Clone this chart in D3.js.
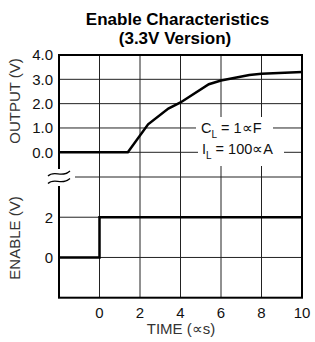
<!DOCTYPE html>
<html><head><meta charset="utf-8">
<script src="https://cdn.jsdelivr.net/npm/d3@7"></script>
<style>body{margin:0;background:#fff}svg{display:block}text{font-family:"Liberation Sans",Arial,sans-serif}</style>
</head><body><svg id="c" width="315" height="342"></svg>
<script>
const outputT = [-2, 1.4, 2.4, 3.4, 4.0, 5.4, 6.0, 7.4, 8.0, 10];
const outputV = [0, 0, 1.15, 1.8, 2.05, 2.8, 2.95, 3.18, 3.23, 3.3];
const enableT = [-2, 0, 0, 10];
const enableV = [0, 0, 2, 2];
const xTicks = [0, 2, 4, 6, 8, 10];
const outTicks = [0, 1, 2, 3, 4];
const outTickLabels = ["0.0", "1.0", "2.0", "3.0", "4.0"];
const enTicks = [0, 2];
const enTickLabels = ["0", "2"];

(function () {
const svg = d3.select("#c");
const L = 59, R = 302;
const x = d3.scaleLinear().domain([-2, 10]).range([L, R]);
const yO = d3.scaleLinear().domain([0, 4]).range([152.3, 55]);
const yE = d3.scaleLinear().domain([-2, 4]).range([297.7, 177]);
const yTop = yO(4), yBot = yE(-2);

const grid = svg.append("g").attr("stroke", "#222").attr("stroke-width", 1);
xTicks.filter(t => t > -2 && t < 10).forEach(t => {
  grid.append("line").attr("x1", x(t)).attr("x2", x(t)).attr("y1", yTop).attr("y2", yBot);
});
outTicks.filter(v => v >= 0 && v < 4).forEach(v => {
  grid.append("line").attr("x1", L).attr("x2", R).attr("y1", yO(v)).attr("y2", yO(v));
});
enTicks.forEach(v => {
  grid.append("line").attr("x1", L).attr("x2", R).attr("y1", yE(v)).attr("y2", yE(v));
});
grid.append("line").attr("x1", 75).attr("x2", R).attr("y1", yE(4)).attr("y2", yE(4));

svg.append("rect").attr("x", L).attr("y", yTop).attr("width", R - L).attr("height", yBot - yTop)
  .attr("fill", "none").attr("stroke", "#000").attr("stroke-width", 2);

svg.append("rect").attr("x", 46).attr("y", 169).attr("width", 26).attr("height", 17).attr("fill", "#fff");
[173.5, 181].forEach(cy => {
  svg.append("path").attr("fill", "none").attr("stroke", "#000").attr("stroke-width", 1.3)
    .attr("d", `M48,${cy+2.5} C54,${cy-4} 62,${cy+5} 70,${cy-2.5}`);
});

const line = (ys) => d3.line().x(d => x(d[0])).y(d => ys(d[1]));
svg.append("path").datum(outputT.map((t, i) => [t, outputV[i]]))
  .attr("d", line(yO)).attr("fill", "none").attr("stroke", "#000").attr("stroke-width", 2.5);
svg.append("path").datum(enableT.map((t, i) => [t, enableV[i]]))
  .attr("d", line(yE)).attr("fill", "none").attr("stroke", "#000").attr("stroke-width", 2.5);

svg.append("rect").attr("x", 196).attr("y", 117).attr("width", 77).attr("height", 24).attr("fill", "#fff");
svg.append("rect").attr("x", 198).attr("y", 141).attr("width", 86).attr("height", 25).attr("fill", "#fff");
const ann1 = svg.append("text").attr("x", 201).attr("y", 132.7).attr("font-size", 14.5).attr("fill", "#111");
ann1.append("tspan").text("C");
ann1.append("tspan").attr("dy", 5).attr("font-size", 10).text("L");
ann1.append("tspan").attr("dy", -5).text(" = 1∝F");
const ann2 = svg.append("text").attr("x", 202).attr("y", 154.3).attr("font-size", 14.5).attr("fill", "#111");
ann2.append("tspan").text("I");
ann2.append("tspan").attr("dy", 5).attr("font-size", 10).text("L");
ann2.append("tspan").attr("dy", -5).text(" = 100∝A");

const tk = svg.append("g").attr("font-size", 15).attr("fill", "#111");
outTicks.forEach((v, i) => {
  tk.append("text").attr("x", 53).attr("y", yO(v)).attr("dy", "0.36em").attr("text-anchor", "end").text(outTickLabels[i]);
});
enTicks.forEach((v, i) => {
  tk.append("text").attr("x", 53).attr("y", yE(v)).attr("dy", "0.36em").attr("text-anchor", "end").text(enTickLabels[i]);
});
xTicks.forEach(t => {
  tk.append("text").attr("x", x(t)).attr("y", 318).attr("text-anchor", "middle").text(t);
});

svg.append("text").attr("x", 181).attr("y", 334).attr("text-anchor", "middle").attr("font-size", 15).attr("fill", "#333").text("TIME (∝s)");
svg.append("text").attr("transform", "translate(20,101) rotate(-90)").attr("text-anchor", "middle").attr("font-size", 15).attr("fill", "#333").text("OUTPUT (V)");
svg.append("text").attr("transform", "translate(20,238) rotate(-90)").attr("text-anchor", "middle").attr("font-size", 15).attr("fill", "#333").text("ENABLE (V)");

svg.append("text").attr("x", 177.5).attr("y", 24.5).attr("text-anchor", "middle").attr("font-size", 17).attr("font-weight", "bold").attr("fill", "#000").text("Enable Characteristics");
svg.append("text").attr("x", 175).attr("y", 43.5).attr("text-anchor", "middle").attr("font-size", 17).attr("font-weight", "bold").attr("fill", "#000").text("(3.3V Version)");
})();
</script></body></html>
